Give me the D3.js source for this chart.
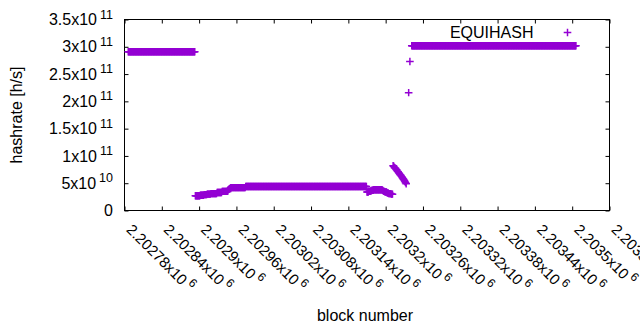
<!DOCTYPE html>
<html>
<head>
<meta charset="utf-8">
<script src="https://cdn.jsdelivr.net/npm/d3@7"></script>
<style>
  body { margin: 0; background: #fff; }
  svg { display: block; font-family: "Liberation Sans", Arial, sans-serif; }
</style>
</head>
<body>
<div id="chart"></div>
<script>
// block heights where each run of consecutive blocks starts
const firstBlocks = [2202786, 2202894, 2203170, 2203212, 2203237, 2203239, 2203242];

// hashrate per block, in units of 1e9 h/s (one value per consecutive block)
const hashrates = [
  [ // 2202786 ..
    291,291,291,291,291,291,291,291,291,291,291,291,291,291,291,291,291,291,291,291,
    291,291,291,291,291,291,291,291,291,291,291,291,291,291,291,291,291,291,291,291,
    291,291,291,291,291,291,291,291,291,291,291,291,291,291,291,291,291,291,291,291,
    291,291,291,291,291,291,291,291,291,291,291,291,291,291,291,291,291,291,291,291,
    291,291,291,291,291,291,291,291,291,291,291,291,291,291,291,291,291,291,291,291,
    291,291,291,291,291,291,291,291
  ],
  [ // 2202894 ..
    27,27,27,27,27,27,27,27,28,28,28,28,28,28,29,29,29,29,29,30,
    30,30,30,30,30,31,31,31,31,31,31,31,31,31,31,33,33,33,33,33,
    33,33,33,35,35,35,35,35,35,35,35,35,35,38,39,40,41,42,42,42,
    42,42,42,42,42,42,42,42,42,42,42,42,42,42,42,42,42,42,42,42,
    42,44,44,44,44,44,44,44,44,44,44,44,44,44,44,44,44,44,44,44,
    44,44,44,44,44,44,44,44,44,44,44,44,44,44,44,44,44,44,44,44,
    44,44,44,44,44,44,44,44,44,44,44,44,44,44,44,44,44,44,44,44,
    44,44,44,44,44,44,44,44,44,44,44,44,44,44,44,44,44,44,44,44,
    44,44,44,44,44,44,44,44,44,44,44,44,44,44,44,44,44,44,44,44,
    44,44,44,44,44,44,44,44,44,44,44,44,44,44,44,44,44,44,44,44,
    44,44,44,44,44,44,44,44,44,44,44,44,44,44,44,44,44,44,44,44,
    44,44,44,44,44,44,44,44,44,44,44,44,44,44,44,44,44,44,44,44,
    44,44,44,44,44,44,44,44,44,44,44,44,44,44,44,44,44,44,44,44,
    44,44,44,44,44,44,44,44,44,44,44,44,44,44,44,44
  ],
  [ // 2203170 ..
    34,34,34,35,35,35,36,36,37,37,37,38,38,38,38,38,38,38,38,38,
    38,38,38,38,38,37,36,35,35,34,34,34,33,32,32,31,31,31,31,30,
    30,30
  ],
  [ // 2203212 ..
    82,81,79,78,77,75,74,72,71,69,68,66,65,63,62,60,58,57,55,53,
    51,49
  ],
  [216], // 2203237
  [273], // 2203239
  [ // 2203242 ..
    302,302,302,302,302,302,302,302,302,302,302,302,302,302,302,302,302,302,302,302,
    302,302,302,302,302,302,302,302,302,302,302,302,302,302,302,302,302,302,302,302,
    302,302,302,302,302,302,302,302,302,302,302,302,302,302,302,302,302,302,302,302,
    302,302,302,302,302,302,302,302,302,302,302,302,302,302,302,302,302,302,302,302,
    302,302,302,302,302,302,302,302,302,302,302,302,302,302,302,302,302,302,302,302,
    302,302,302,302,302,302,302,302,302,302,302,302,302,302,302,302,302,302,302,302,
    302,302,302,302,302,302,302,302,302,302,302,302,302,302,302,302,302,302,302,302,
    302,302,302,302,302,302,302,302,302,302,302,302,302,302,302,302,302,302,302,302,
    302,302,302,302,302,302,302,302,302,302,302,302,302,302,302,302,302,302,302,302,
    302,302,302,302,302,302,302,302,302,302,302,302,302,302,302,302,302,302,302,302,
    302,302,302,302,302,302,302,302,302,302,302,302,302,302,302,302,302,302,302,302,
    302,302,302,302,302,302,302,302,302,302,302,302,302,302,302,302,302,302,302,302,
    302,302,302,302,302,302,302,302,302,302,302,302,302,302,302,302,302,302,302,302,
    302,302,302,302,302
  ]
];

const xTicks = [2202780, 2202840, 2202900, 2202960, 2203020, 2203080, 2203140,
                2203200, 2203260, 2203320, 2203380, 2203440, 2203500, 2203560];
const xTickMantissa = ["2.20278", "2.20284", "2.2029", "2.20296", "2.20302", "2.20308", "2.20314",
                       "2.2032", "2.20326", "2.20332", "2.20338", "2.20344", "2.2035", "2.20356"];
const xTickExp = "6";

const yTicks = [0, 5e10, 1e11, 1.5e11, 2e11, 2.5e11, 3e11, 3.5e11];
const yTickMantissa = ["0", "5", "1", "1.5", "2", "2.5", "3", "3.5"];
const yTickExp = [null, "10", "11", "11", "11", "11", "11", "11"];

const seriesName = "EQUIHASH";
const purple = "#9400d3";

const W = 640, H = 330;
const plot = { left: 124.5, right: 609.5, top: 19.5, bottom: 210.5 };

const svg = d3.select("#chart").append("svg")
    .attr("width", W)
    .attr("height", H);

const x = d3.scaleLinear().domain([2202780, 2203560]).range([plot.left, plot.right]);
const y = d3.scaleLinear().domain([0, 3.5e11]).range([plot.bottom, plot.top]);

// tick label with superscript exponent, like gnuplot's enhanced text
function sciLabel(sel, mant, exp, supSize) {
  sel.text(null);
  sel.append("tspan").text(mant === "0" ? "0" : mant + "x10");
  if (exp) {
    sel.append("tspan")
        .attr("dx", 3)
        .attr("dy", -6.5)
        .style("font-size", supSize)
        .text(exp);
  }
}

function styleAxis(g) {
  g.attr("font-family", null).attr("font-size", null);
  g.select(".domain").remove();
  g.selectAll("line").attr("stroke", "#000");
  g.selectAll("text").attr("fill", "#000").style("font-size", "16px");
}

// left axis
svg.append("g")
    .attr("transform", `translate(${plot.left},0)`)
    .call(d3.axisLeft(y).tickValues(yTicks).tickSizeInner(-4).tickSizeOuter(0).tickPadding(11.5))
    .call(styleAxis)
    .selectAll("text")
    .each(function(d, i) { sciLabel(d3.select(this), yTickMantissa[i], yTickExp[i], "12.5px"); });

// right mirror ticks
svg.append("g")
    .attr("transform", `translate(${plot.right},0)`)
    .call(d3.axisRight(y).tickValues(yTicks).tickSizeInner(-4).tickSizeOuter(0).tickFormat(""))
    .call(styleAxis);

// bottom axis with rotated labels
svg.append("g")
    .attr("transform", `translate(0,${plot.bottom})`)
    .call(d3.axisBottom(x).tickValues(xTicks).tickSizeInner(-4).tickSizeOuter(0))
    .call(styleAxis)
    .selectAll("text")
    .attr("x", 0)
    .attr("y", 0)
    .attr("dy", null)
    .attr("text-anchor", "start")
    .style("font-size", "15px")
    .attr("transform", "translate(0.5,20) rotate(45)")
    .each(function(d, i) { sciLabel(d3.select(this), xTickMantissa[i], xTickExp, "12px"); });

// top mirror ticks
svg.append("g")
    .attr("transform", `translate(0,${plot.top})`)
    .call(d3.axisTop(x).tickValues(xTicks).tickSizeInner(-4).tickSizeOuter(0).tickFormat(""))
    .call(styleAxis);

// border
svg.append("rect")
    .attr("x", plot.left)
    .attr("y", plot.top)
    .attr("width", plot.right - plot.left)
    .attr("height", plot.bottom - plot.top)
    .attr("fill", "none")
    .attr("stroke", "#000")
    .attr("stroke-width", 1);

// axis titles
svg.append("text")
    .attr("x", 365)
    .attr("y", 320.5)
    .attr("text-anchor", "middle")
    .style("font-size", "16px")
    .text("block number");

svg.append("text")
    .attr("transform", `translate(22,${(plot.top + plot.bottom) / 2}) rotate(-90)`)
    .attr("text-anchor", "middle")
    .style("font-size", "16px")
    .text("hashrate [h/s]");

// points
const points = hashrates.flatMap((vals, s) =>
  vals.map((v, i) => ({ block: firstBlocks[s] + i, value: v * 1e9 })));

const plusPath = "M-3.8,0H3.8M0,-3.7V3.7";

svg.append("g")
    .attr("stroke", purple)
    .attr("stroke-width", 1.5)
    .attr("fill", "none")
    .selectAll("path")
    .data(points)
    .join("path")
      .attr("transform", d => `translate(${x(d.block)},${y(d.value)})`)
      .attr("d", plusPath);

// legend
svg.append("text")
    .attr("x", 533.5)
    .attr("y", 37.5)
    .attr("text-anchor", "end")
    .style("font-size", "16px")
    .text(seriesName);

svg.append("path")
    .attr("transform", "translate(567.5,32.5)")
    .attr("d", plusPath)
    .attr("stroke", purple)
    .attr("stroke-width", 1.5)
    .attr("fill", "none");
</script>
</body>
</html>
